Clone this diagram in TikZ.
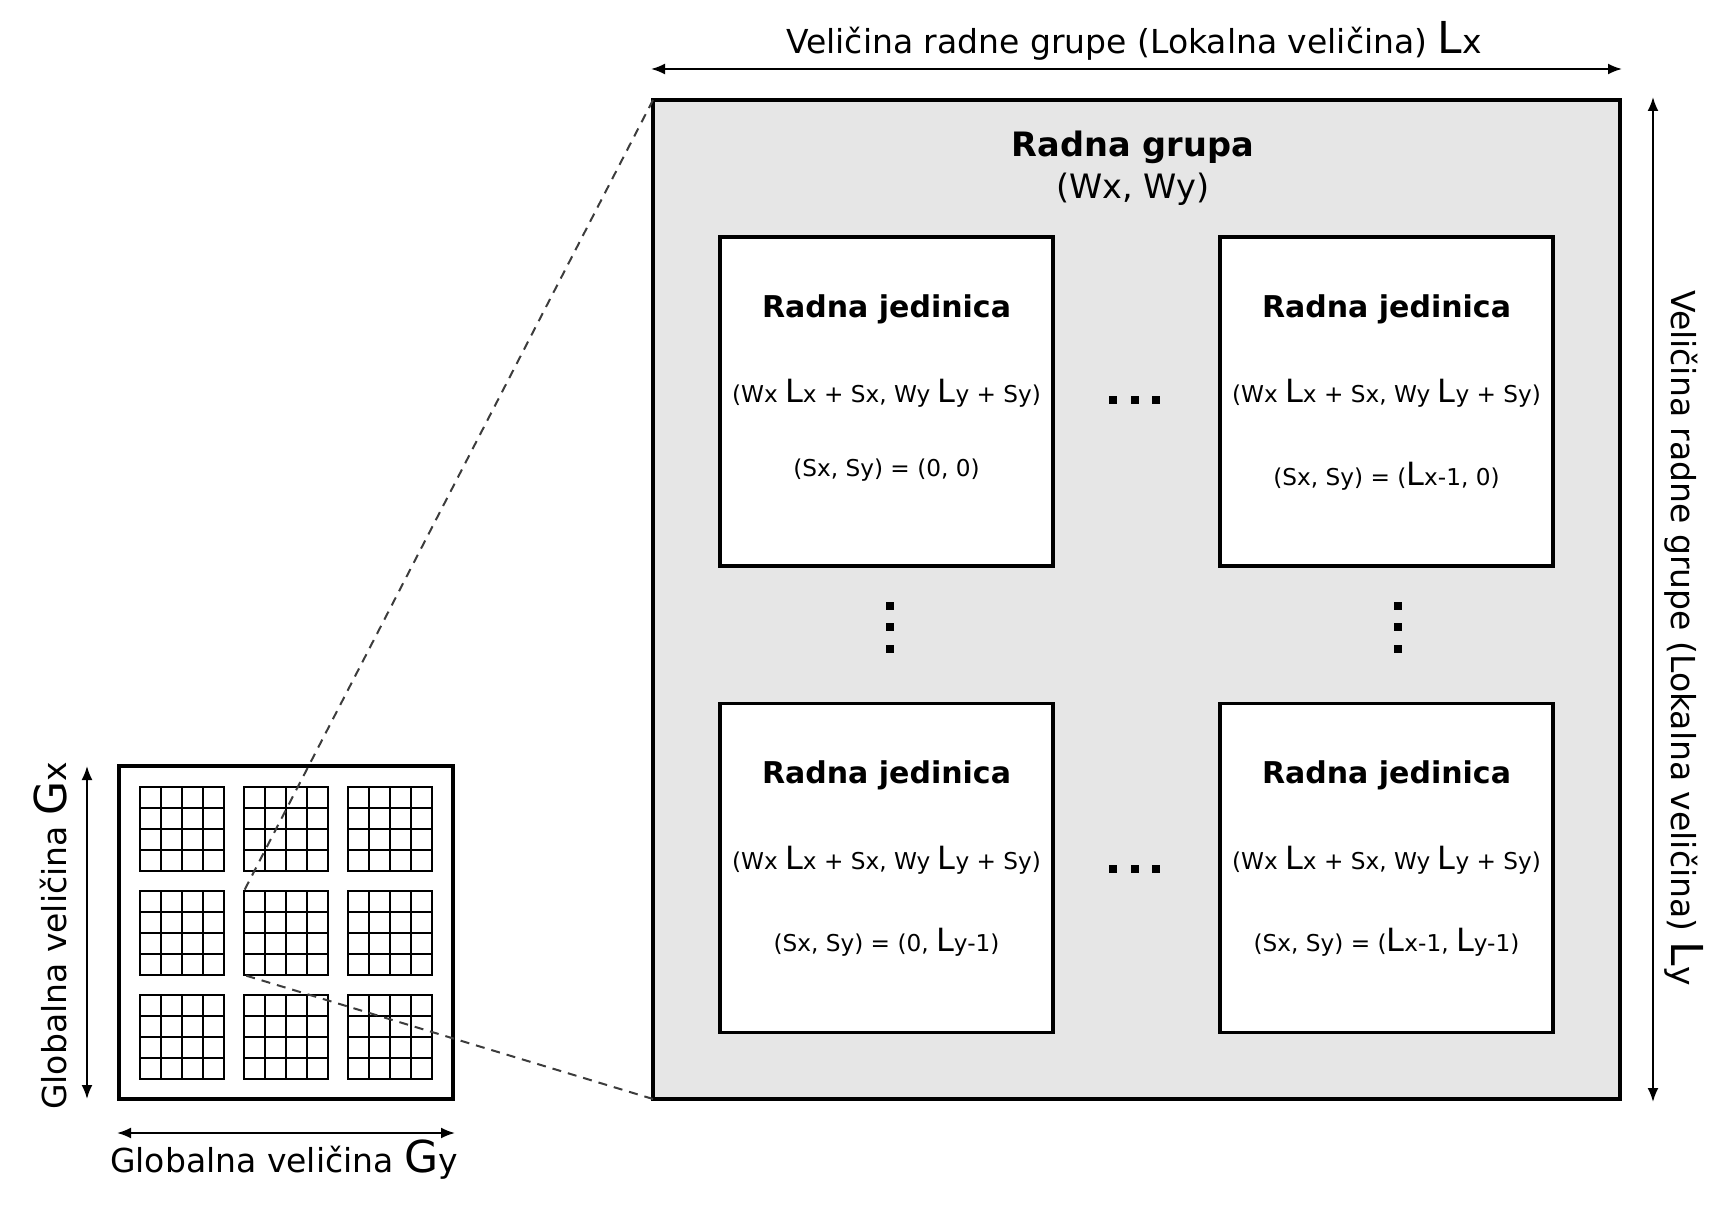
\documentclass[tikz,border=0pt]{standalone}
\usepackage{fontspec}
\setmainfont{DejaVu Sans}
\usetikzlibrary{arrows.meta}
\definecolor{grpgray}{HTML}{E6E6E6}
\definecolor{dashgray}{HTML}{3C3C3C}
\newcommand\bigL[1]{{\fontsize{#1}{#1}\selectfont L}}
\newcommand\bigG[1]{{\fontsize{#1}{#1}\selectfont G}}
\newcommand\unitfont{\fontsize{11.6}{13}\selectfont}
\newcommand\labelfont{\fontsize{16.5}{20}\selectfont}
\begin{document}
\begin{tikzpicture}[x=0.5pt,y=-0.5pt,
  grpbox/.style={draw, line width=1.6pt, fill=grpgray, minimum width=483.5pt, minimum height=499.5pt, inner sep=0pt, outer sep=0pt},
  unitbox/.style={draw, line width=1.6pt, fill=white, minimum width=166.5pt, minimum height=164.5pt, inner sep=0pt, outer sep=0pt},
  globbox/.style={draw, line width=1.6pt, fill=white, minimum width=167pt, minimum height=166.5pt, inner sep=0pt, outer sep=0pt},
  tile/.style={draw, line width=0.85pt, minimum width=42pt, minimum height=42pt, inner sep=0pt, outer sep=0pt},
  gridline/.style={line width=0.7pt},
  dimarrow/.style={line width=1pt, {Latex[length=7pt,width=5.5pt]}-{Latex[length=7pt,width=5.5pt]}},
  zoomline/.style={dashgray, line width=1pt, dash pattern=on 4.5pt off 3.5pt},
  utitle/.style={font=\fontsize{15}{17}\bfseries, inner sep=0pt},
  utext/.style={font=\unitfont, inner sep=0pt},
  dimlabel/.style={font=\labelfont, inner sep=0pt},
  dotc/.style={fill=black}
]
\useasboundingbox (0,0) rectangle (1720,1209);

% work group
\node[grpbox] (grp) at (1136.5,599.5) {};
\node[font=\fontsize{16.8}{19}\bfseries, inner sep=0pt] (grpt) at (1133,147) {Radna grupa};
\node[font=\fontsize{16.8}{19}\selectfont, inner sep=0pt] (grpc) at (1133,189) {(Wx, Wy)};

% work units
\node[unitbox] (u1) at (886.5,401.5) {};
\node[unitbox] (u2) at (1386.5,401.5) {};
\node[unitbox] (u3) at (886.5,868) {};
\node[unitbox] (u4) at (1386.5,868) {};

\node[utitle] (u1t) at (886.5,309) {Radna jedinica};
\node[utext] (u1a) at (886.5,393) {(Wx \bigL{16}x + Sx, Wy \bigL{16}y + Sy)};
\node[utext] (u1b) at (886.5,470) {(Sx, Sy) = (0, 0)};

\node[utitle] (u2t) at (1386.5,309) {Radna jedinica};
\node[utext] (u2a) at (1386.5,393) {(Wx \bigL{16}x + Sx, Wy \bigL{16}y + Sy)};
\node[utext] (u2b) at (1386.5,476) {(Sx, Sy) = (\bigL{16}x-1, 0)};

\node[utitle] (u3t) at (886.5,775) {Radna jedinica};
\node[utext] (u3a) at (886.5,860) {(Wx \bigL{16}x + Sx, Wy \bigL{16}y + Sy)};
\node[utext] (u3b) at (886.5,942) {(Sx, Sy) = (0, \bigL{16}y-1)};

\node[utitle] (u4t) at (1386.5,775) {Radna jedinica};
\node[utext] (u4a) at (1386.5,860) {(Wx \bigL{16}x + Sx, Wy \bigL{16}y + Sy)};
\node[utext] (u4b) at (1386.5,942) {(Sx, Sy) = (\bigL{16}x-1, \bigL{16}y-1)};

% ellipsis dots
\foreach \x in {1113,1135,1156} {
  \fill[dotc] (\x-4,400-4) rectangle (\x+4,400+4);
  \fill[dotc] (\x-4,869-4) rectangle (\x+4,869+4);
}
\foreach \y in {606,627,649} {
  \fill[dotc] (890-4,\y-4) rectangle (890+4,\y+4);
  \fill[dotc] (1398-4,\y-4) rectangle (1398+4,\y+4);
}

% global grid
\node[globbox] (glob) at (286,932.5) {};
\foreach \i/\xx in {1/140,2/244,3/348} {
  \foreach \j/\yy in {1/787,2/891,3/995} {
    \node[tile] (t\i\j) at (\xx+42,\yy+42) {};
    \foreach \k in {1,2,3} {
      \draw[gridline] (\xx+21*\k,\yy) -- (\xx+21*\k,\yy+84);
      \draw[gridline] (\xx,\yy+21*\k) -- (\xx+84,\yy+21*\k);
    }
  }
}

% zoom lines
\draw[zoomline] (grp.north west) -- (t22.north west);
\draw[zoomline] (grp.south west) -- (t22.south west);

% dimension arrows
\coordinate (topL) at (651,69);
\coordinate (topR) at (1622,69);
\draw[dimarrow] (topL) -- (topR);
\node[dimlabel] (toplab) at (1134,41) {Veličina radne grupe (Lokalna veličina) \bigL{22}x};

\coordinate (rT) at (1653,97);
\coordinate (rB) at (1653,1102);
\draw[dimarrow] (rT) -- (rB);
\node[dimlabel, rotate=-90] (rightlab) at (1684,638) {Veličina radne grupe (Lokalna veličina) \bigL{22}y};

\coordinate (lT) at (87,766);
\coordinate (lB) at (87,1099);
\draw[dimarrow] (lT) -- (lB);
\node[dimlabel, rotate=90] (leftlab) at (50,936) {Globalna veličina \bigG{22}x};

\coordinate (bL) at (117,1133);
\coordinate (bR) at (455,1133);
\draw[dimarrow] (bL) -- (bR);
\node[dimlabel] (botlab) at (284,1160) {Globalna veličina \bigG{22}y};
\end{tikzpicture}
\end{document}
